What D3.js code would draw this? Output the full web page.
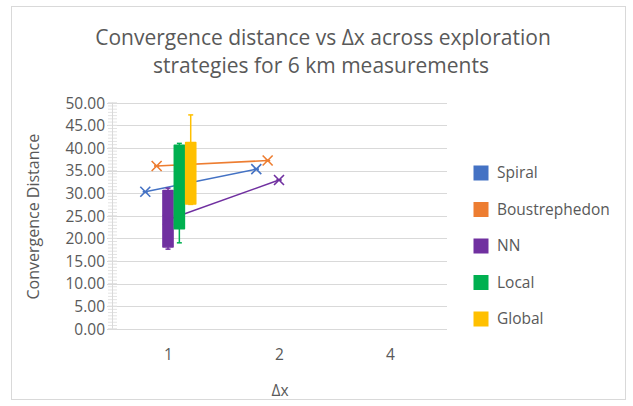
<!DOCTYPE html>
<html>
<head>
<meta charset="utf-8">
<script src="https://cdn.jsdelivr.net/npm/d3@7/dist/d3.min.js"></script>
<style>
  html, body { margin: 0; padding: 0; background: #fff; }
  svg { display: block; font-family: "Open Sans", "Noto Sans", sans-serif; }
</style>
</head>
<body>
<svg id="chart" width="633" height="406"></svg>
<script>
// Δx categories and exploration strategies
const categories = ["1", "2", "4"];
const seriesNames = ["Spiral", "Boustrephedon", "NN", "Local", "Global"];
const seriesColors = ["#4472C4", "#ED7D31", "#7030A0", "#00B050", "#FFC000"];
const yTicks = [0, 5, 10, 15, 20, 25, 30, 35, 40, 45, 50];

// Box statistics per strategy and Δx: [min, q1, median, q3, max, mean]; null where no runs
const spiralStats = [
  [30.3, 30.3, 30.3, 30.3, 30.3, 30.3],
  [35.3, 35.3, 35.3, 35.3, 35.3, 35.3],
  null
];
const boustrephedonStats = [
  [36.0, 36.0, 36.0, 36.0, 36.0, 36.0],
  [37.2, 37.2, 37.2, 37.2, 37.2, 37.2],
  null
];
const nnStats = [
  [17.6, 18.1, 24.0, 30.6, 31.1, 24.1],
  [32.9, 32.9, 32.9, 32.9, 32.9, 32.9],
  null
];
const localStats = [
  [19.0, 22.1, 31.0, 40.6, 41.0, 31.0],
  null,
  null
];
const globalStats = [
  [27.5, 27.6, 35.0, 41.2, 47.3, 36.0],
  null,
  null
];
const allStats = [spiralStats, boustrephedonStats, nnStats, localStats, globalStats];

const svg = d3.select("#chart");
const textColor = "#595959";
const gridColor = "#d9d9d9";

// chart frame
svg.append("rect").attr("x", 11.5).attr("y", 6.5).attr("width", 614).attr("height", 393)
  .attr("fill", "#fff").attr("stroke", gridColor).attr("stroke-width", 1);

const plot = { left: 113, right: 446, top: 102.7, bottom: 328.7 };

const x = d3.scaleBand().domain(categories).range([plot.left, plot.right]).padding(0);
const xs = d3.scaleBand().domain(seriesNames).range([-29, 28]).padding(0.02);
const y = d3.scaleLinear().domain([0, 50]).range([plot.bottom, plot.top]);

// title
const title = svg.append("text").attr("text-anchor", "middle").attr("fill", textColor)
  .attr("font-size", 21);
title.append("tspan").attr("x", 323).attr("y", 45).text("Convergence distance vs Δx across exploration");
title.append("tspan").attr("x", 321).attr("y", 73).text("strategies for 6 km measurements");

// gridlines
svg.append("g").selectAll("line").data(yTicks).join("line")
  .attr("x1", 107).attr("x2", plot.right + 1)
  .attr("y1", d => Math.round(y(d)) + 0.5).attr("y2", d => Math.round(y(d)) + 0.5)
  .attr("stroke", gridColor).attr("stroke-width", 1.2);

// minor ticks on value axis
const minorTicks = d3.range(0, 50.0001, 5 / 7);
svg.append("g").selectAll("line").data(minorTicks).join("line")
  .attr("x1", 108).attr("x2", 117)
  .attr("y1", d => y(d)).attr("y2", d => y(d))
  .attr("stroke", "#e3e3e3").attr("stroke-width", 1);

// value axis line
svg.append("line").attr("x1", plot.left - 0.5).attr("x2", plot.left - 0.5)
  .attr("y1", plot.top).attr("y2", plot.bottom).attr("stroke", gridColor).attr("stroke-width", 1);

// value axis labels
const yAxis = d3.axisLeft(y).tickValues(yTicks).tickFormat(d3.format(".2f")).tickSize(0).tickPadding(0);
const yg = svg.append("g").attr("transform", `translate(105,0)`).call(yAxis);
yg.select(".domain").remove();
yg.selectAll("text").attr("fill", textColor).attr("font-size", 15.5).attr("font-family", "Open Sans, sans-serif")
  .attr("dy", "0.35em");

// category axis labels
const xAxis = d3.axisBottom(x).tickSize(0).tickPadding(0);
const xg = svg.append("g").attr("transform", `translate(0,${plot.bottom + 20})`).call(xAxis);
xg.select(".domain").remove();
xg.selectAll("text").attr("fill", textColor).attr("font-size", 15.5).attr("font-family", "Open Sans, sans-serif")
  .attr("dy", "0.71em");

// axis titles
svg.append("text").attr("x", 280).attr("y", 396).attr("text-anchor", "middle")
  .attr("fill", textColor).attr("font-size", 15.5).text("Δx");
svg.append("text").attr("transform", `translate(39,${(plot.top + plot.bottom) / 2 + 1}) rotate(-90)`)
  .attr("text-anchor", "middle").attr("fill", textColor).attr("font-size", 16).text("Convergence Distance");

// boxes, whiskers, mean lines and markers, drawn series by series
const boxW = xs.bandwidth();
allStats.forEach((stats, si) => {
  const name = seriesNames[si];
  const color = seriesColors[si];
  const g = svg.append("g");
  const cx = i => x(categories[i]) + x.bandwidth() / 2 + xs(name) + boxW / 2;

  stats.forEach((s, i) => {
    if (!s) return;
    const [mn, q1, md, q3, mx] = s;
    const c = cx(i);
    // whiskers
    g.append("line").attr("x1", c).attr("x2", c).attr("y1", y(mx)).attr("y2", y(q3))
      .attr("stroke", color).attr("stroke-width", 1.5);
    g.append("line").attr("x1", c).attr("x2", c).attr("y1", y(q1)).attr("y2", y(mn))
      .attr("stroke", color).attr("stroke-width", 1.5);
    g.append("line").attr("x1", c - 2.5).attr("x2", c + 2.5).attr("y1", y(mn)).attr("y2", y(mn))
      .attr("stroke", color).attr("stroke-width", 1.5);
    g.append("line").attr("x1", c - 2.5).attr("x2", c + 2.5).attr("y1", y(mx)).attr("y2", y(mx))
      .attr("stroke", color).attr("stroke-width", 1.5);
    // box
    if (q3 > q1) {
      g.append("rect").attr("x", c - boxW / 2 + 0.5).attr("width", boxW - 1)
        .attr("y", y(q3)).attr("height", y(q1) - y(q3))
        .attr("fill", color).attr("stroke", color).attr("stroke-width", 1.5)
        .attr("stroke-linejoin", "round");
      g.append("line").attr("x1", c - boxW / 2 + 0.5).attr("x2", c + boxW / 2 - 0.5)
        .attr("y1", y(md)).attr("y2", y(md)).attr("stroke", color).attr("stroke-width", 1.5);
    }
  });

  // mean line
  const means = stats.map((s, i) => s ? { i, v: s[5] } : null).filter(d => d);
  if (means.length > 1) {
    g.append("path")
      .attr("d", d3.line().x(d => cx(d.i)).y(d => y(d.v))(means))
      .attr("fill", "none").attr("stroke", color).attr("stroke-width", 1.5);
  }
  // mean markers (x)
  const r = 5;
  means.forEach(d => {
    const px = cx(d.i), py = y(d.v);
    g.append("path")
      .attr("d", `M${px - r},${py - r}L${px + r},${py + r}M${px - r},${py + r}L${px + r},${py - r}`)
      .attr("stroke", color).attr("stroke-width", 1.6).attr("fill", "none");
  });
});

// legend
const legend = svg.append("g").selectAll("g").data(seriesNames).join("g")
  .attr("transform", (d, i) => `translate(473,${173 + i * 36.5})`);
legend.append("rect").attr("x", 0.5).attr("y", -7.5).attr("width", 15).attr("height", 15)
  .attr("fill", (d, i) => seriesColors[i]);
legend.append("text").attr("x", 24).attr("y", 0).attr("dy", "0.35em")
  .attr("fill", textColor).attr("font-size", 15.5).text(d => d);
</script>
</body>
</html>
